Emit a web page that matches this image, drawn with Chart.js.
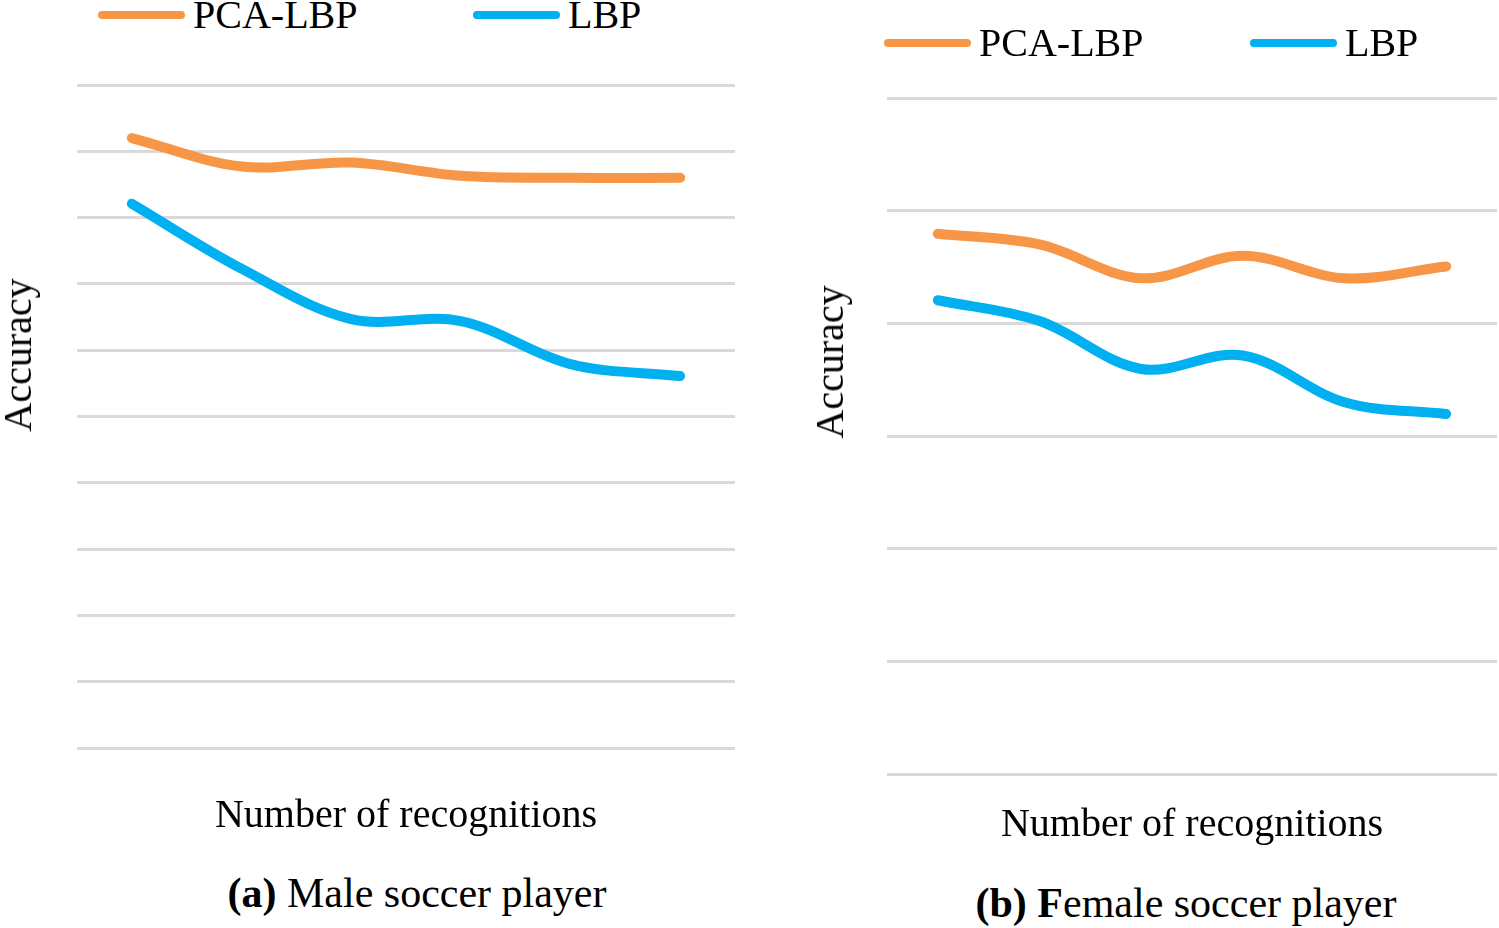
<!DOCTYPE html>
<html>
<head>
<meta charset="utf-8">
<script src="https://cdn.jsdelivr.net/npm/chart.js@4.4.0/dist/chart.umd.min.js"></script>
<style>
    html, body { margin: 0; padding: 0; background: #fff; }
    body { width: 1499px; height: 928px; position: relative; overflow: hidden;
        font-family: "Liberation Serif", "Times New Roman", serif; color: #000; }
    .box { position: absolute; }
    .legend-item { position: absolute; display: flex; align-items: center; font-size: 40px; line-height: 1; white-space: nowrap; }
    .legend-item .swatch { display: inline-block; width: 87px; height: 8px; border-radius: 4px; margin-right: 8px; }
    .caption, .ytitle { position: absolute; font-size: 40px; line-height: 1; white-space: nowrap; }
    .caption { font-size: 42px; transform: translate(-50%, -50%); }
    .ytitle { transform: translate(-50%, -50%) rotate(-90deg); }
</style>
</head>
<body>
<div class="box" style="left:0;top:60px;width:750px;height:776px"><canvas id="maleChart"></canvas></div>
<div class="box" style="left:800px;top:60px;width:699px;height:785px"><canvas id="femaleChart"></canvas></div>
<div class="ytitle" style="left:18px;top:355px">Accuracy</div>
<div class="ytitle" style="left:830px;top:362px">Accuracy</div>
<div class="caption" style="left:417px;top:893px"><b>(a)</b> Male soccer player</div>
<div class="caption" style="left:1186px;top:903px"><b>(b) F</b>emale soccer player</div>
<script>
const recognitions = ["1", "2", "3", "4", "5", "6"];
const seriesNames = ["PCA-LBP", "LBP"];
const seriesColors = ["#F79646", "#00B0F0"];

const malePcaLbp = [92.0, 87.7, 88.3, 86.3, 86.0, 86.0];
const maleLbp = [82.1, 72.3, 64.7, 64.4, 57.9, 56.1];

const femalePcaLbp = [95.9, 94.0, 88.0, 92.0, 88.0, 90.1];
const femaleLbp = [84.1, 80.4, 71.9, 74.3, 66.0, 63.9];

const titleFont = { family: "'Liberation Serif', serif", size: 40, lineHeight: 1 };

const makeChart = (id, values, yMax, yStep, pad) => {
    const ctx = document.getElementById(id).getContext("2d");
    return new Chart(ctx, {
        type: "line",
        data: {
            labels: recognitions,
            datasets: values.map((data, i) => ({
                label: seriesNames[i],
                data: data,
                borderColor: seriesColors[i],
                backgroundColor: seriesColors[i],
                borderWidth: 10,
                borderCapStyle: "round",
                pointRadius: 0,
                tension: 0.35,
            })),
        },
        options: {
            responsive: true,
            maintainAspectRatio: false,
            animation: false,
            layout: { padding: { top: pad.top, right: pad.right, left: pad.left, bottom: 0 } },
            plugins: { legend: { display: false }, tooltip: { enabled: false } },
            scales: {
                x: {
                    offset: true,
                    grid: { display: false, drawTicks: false },
                    border: { display: false },
                    ticks: { display: false },
                    title: {
                        display: true,
                        text: "Number of recognitions",
                        color: "#000",
                        font: titleFont,
                        padding: { top: pad.xTitle, bottom: 0 },
                    },
                },
                y: {
                    min: 0,
                    max: yMax,
                    ticks: { display: false, stepSize: yStep },
                    grid: { color: "#D9D9D9", lineWidth: 3, drawTicks: false },
                    border: { display: false },
                },
            },
        },
    });
};

// html legends, one per panel
const addLegend = (positions, y) => {
    seriesNames.forEach((name, i) => {
        const item = document.createElement("div");
        item.className = "legend-item";
        item.style.left = positions[i] + "px";
        item.style.top = (y - 20) + "px";
        item.innerHTML = `<span class="swatch" style="background:${seriesColors[i]}"></span>${name}`;
        document.body.appendChild(item);
    });
};

makeChart("maleChart", [malePcaLbp, maleLbp], 100, 10,
    { top: 25, right: 15, left: 77, xTitle: 48 });
makeChart("femaleChart", [femalePcaLbp, femaleLbp], 120, 20,
    { top: 38, right: 2, left: 87, xTitle: 31 });

addLegend([98, 473], 15);
addLegend([884, 1250], 43);
</script>
</body>
</html>
